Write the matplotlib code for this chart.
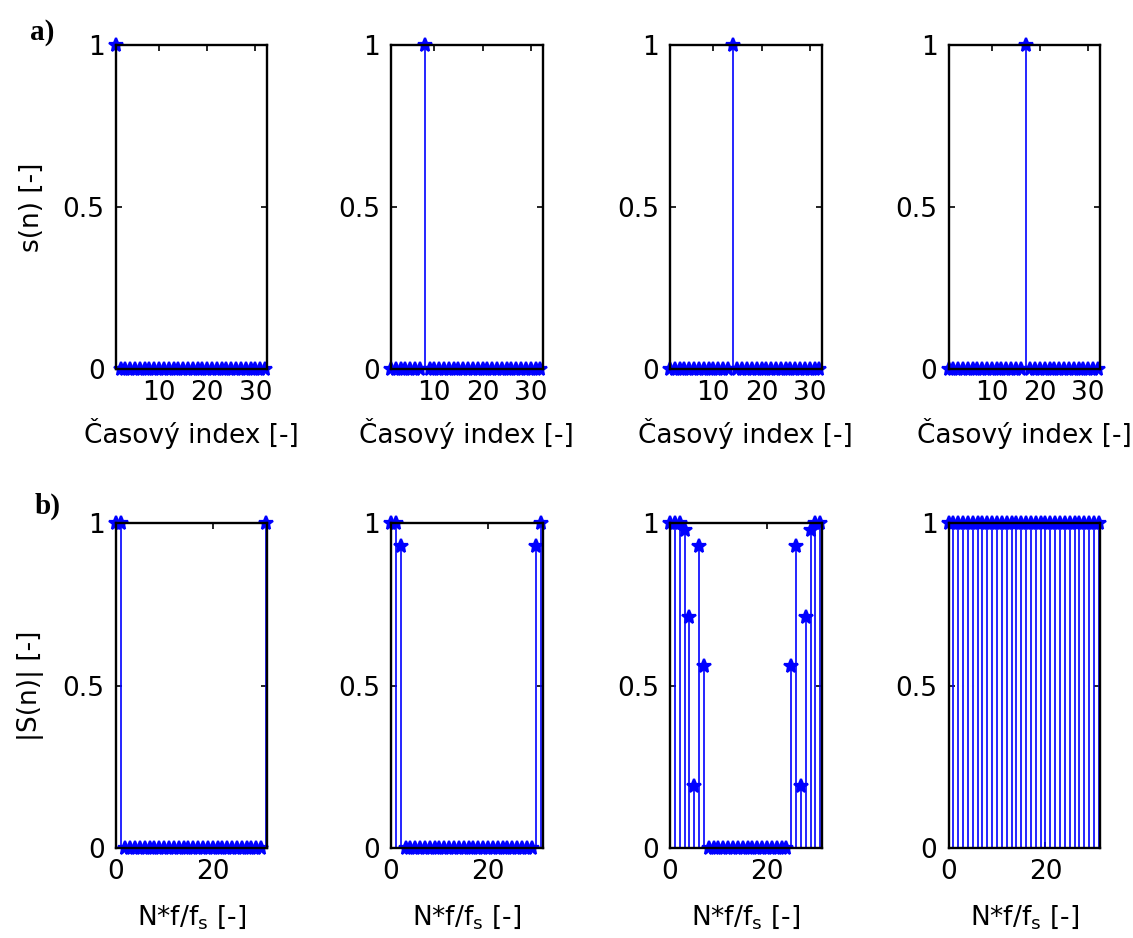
import matplotlib
matplotlib.use("Agg")
import matplotlib.pyplot as plt
import numpy as np

# time axis and impulse positions (one unit impulse per column)
n_time = np.arange(1, 33)
impulse_at = [1, 8, 14, 17]

# magnitude spectra, one per column
k_freq = np.arange(0, 32)
mag_1 = [1, 1] + [0] * 29 + [1]
mag_2 = [1, 1, 0.93] + [0] * 27 + [0.93, 1]
mag_3 = [1, 1, 1, 0.98, 0.71, 0.19, 0.93, 0.56] + [0] * 17 + [0.56, 0.93, 0.19, 0.71, 0.98, 1, 1]
mag_4 = [1] * 32
spectra = [mag_1, mag_2, mag_3, mag_4]

W, H = 1133, 938
fig = plt.figure(figsize=(W / 100, H / 100), dpi=100)
fig.patch.set_facecolor("white")
plt.rcParams["font.family"] = "DejaVu Sans"

FS = 19
BLUE = "#0000ff"
col_x = [115.7, 391, 670, 948.5]
ax_w = 151.5
row_top = [(45, 369), (523, 848)]


def make_axes(x0, top, bottom):
    return fig.add_axes([x0 / W, 1 - bottom / H, ax_w / W, (bottom - top) / H])


def draw_stem(ax, x, y):
    markers, stems, base = ax.stem(x, y, linefmt="-", markerfmt="*", basefmt=" ")
    stems.set_color(BLUE)
    stems.set_linewidth(1.2)
    stems.set_clip_on(False)
    markers.set_color(BLUE)
    markers.set_markersize(10)
    markers.set_markeredgewidth(1.6)
    markers.set_clip_on(False)
    base.set_visible(False)


def style(ax):
    for sp in ax.spines.values():
        sp.set_linewidth(1.7)
        sp.set_zorder(3)
    ax.set_ylim(0, 1)
    ax.set_yticks([0, 0.5, 1])
    ax.set_yticklabels(["0", "0.5", "1"])
    ax.tick_params(direction="in", length=4, width=1.2, top=True, right=True,
                   labelsize=FS, pad=8)


for i in range(4):
    # a) time-domain impulses
    ax = make_axes(col_x[i], *row_top[0])
    s = np.zeros(len(n_time))
    s[impulse_at[i] - 1] = 1
    draw_stem(ax, n_time, s)
    style(ax)
    ax.set_xlim(1, 32.45)
    ax.set_xticks([10, 20, 30])
    ax.set_xlabel("Časový index [-]", fontsize=FS)
    ax.xaxis.set_label_coords(0.5, -0.15)
    if i == 0:
        ax.set_ylabel("s(n) [-]", fontsize=FS)
        ax.yaxis.set_label_coords(-0.47, 0.5)

    # b) magnitude spectra
    ax = make_axes(col_x[i], *row_top[1])
    draw_stem(ax, k_freq, spectra[i])
    style(ax)
    ax.set_xlim(0, 31.25)
    ax.set_xticks([0, 20])
    ax.set_xlabel("N*f/f$_\\mathregular{s}$ [-]", fontsize=FS)
    ax.xaxis.set_label_coords(0.5, -0.17)
    if i == 0:
        ax.set_ylabel("|S(n)| [-]", fontsize=FS)
        ax.yaxis.set_label_coords(-0.47, 0.5)

fig.text(30 / W, 1 - 32 / H, "a)", fontsize=21, fontweight="bold",
         family="Liberation Serif", va="center", ha="left")
fig.text(35 / W, 1 - 506 / H, "b)", fontsize=21, fontweight="bold",
         family="Liberation Serif", va="center", ha="left")

fig.savefig("out.png", dpi=100, facecolor="white")
